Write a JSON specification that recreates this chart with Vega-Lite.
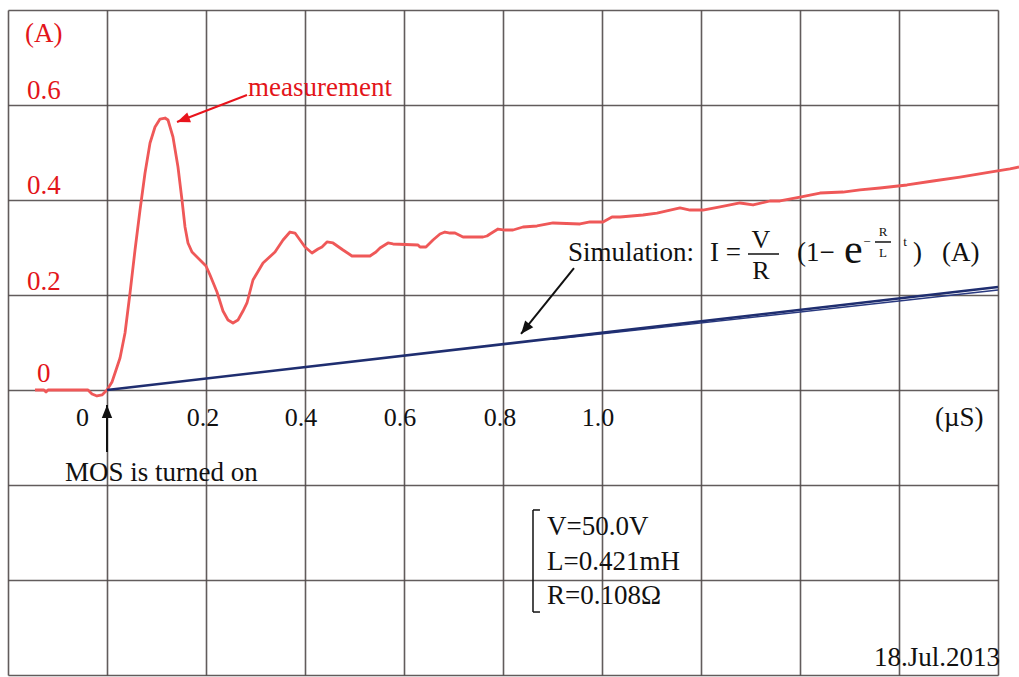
{
  "$schema": "https://vega.github.io/schema/vega-lite/v6.json",
  "width": 990,
  "height": 665,
  "autosize": {"type": "none"},
  "padding": {"left": 8, "top": 10, "right": 21, "bottom": 2},
  "background": "white",
  "config": {
    "view": {"stroke": null},
    "text": {"font": "Liberation Serif"}
  },
  "encoding": {
    "x": {
      "field": "t", "type": "quantitative",
      "scale": {"domain": [-0.2, 1.8], "nice": false, "zero": false},
      "axis": {"values": [-0.2, 0, 0.2, 0.4, 0.6, 0.8, 1.0, 1.2, 1.4, 1.6, 1.8], "grid": true, "labels": false, "ticks": false, "domain": false, "title": null, "gridColor": "#514a4a", "gridWidth": 1.6, "gridOpacity": 0.9}
    },
    "y": {
      "field": "I", "type": "quantitative",
      "scale": {"domain": [-0.6, 0.8], "nice": false, "zero": false},
      "axis": {"values": [-0.6, -0.4, -0.2, 0, 0.2, 0.4, 0.6, 0.8], "grid": true, "labels": false, "ticks": false, "domain": false, "title": null, "gridColor": "#514a4a", "gridWidth": 1.6, "gridOpacity": 0.9}
    }
  },
  "layer": [
    {
      "data": {"values": [
        {"t": -0.1455, "I": 0}, {"t": -0.1273, "I": 0}, {"t": -0.1232, "I": -0.0042}, {"t": -0.1192, "I": 0},
        {"t": -0.0384, "I": 0}, {"t": -0.0303, "I": -0.0084}, {"t": -0.0202, "I": -0.0126}, {"t": -0.0101, "I": -0.0105},
        {"t": 0, "I": 0}, {"t": 0.0101, "I": 0.0168}, {"t": 0.0162, "I": 0.0358}, {"t": 0.0263, "I": 0.0674},
        {"t": 0.0364, "I": 0.12}, {"t": 0.0465, "I": 0.2042}, {"t": 0.0566, "I": 0.2947}, {"t": 0.0667, "I": 0.3789},
        {"t": 0.0768, "I": 0.4568}, {"t": 0.0869, "I": 0.52}, {"t": 0.097, "I": 0.5537}, {"t": 0.1071, "I": 0.5705},
        {"t": 0.1172, "I": 0.5726}, {"t": 0.1232, "I": 0.5684}, {"t": 0.1333, "I": 0.5326}, {"t": 0.1434, "I": 0.4695},
        {"t": 0.1515, "I": 0.4}, {"t": 0.1576, "I": 0.3432}, {"t": 0.1636, "I": 0.3095}, {"t": 0.1717, "I": 0.2905},
        {"t": 0.1879, "I": 0.2737}, {"t": 0.2, "I": 0.2611}, {"t": 0.2081, "I": 0.2421}, {"t": 0.2222, "I": 0.2063},
        {"t": 0.2343, "I": 0.1663}, {"t": 0.2444, "I": 0.1474}, {"t": 0.2545, "I": 0.1411}, {"t": 0.2646, "I": 0.1474},
        {"t": 0.2747, "I": 0.1663}, {"t": 0.2828, "I": 0.1832}, {"t": 0.2949, "I": 0.2316}, {"t": 0.3152, "I": 0.2674},
        {"t": 0.3394, "I": 0.2905}, {"t": 0.3556, "I": 0.3158}, {"t": 0.3697, "I": 0.3326}, {"t": 0.3798, "I": 0.3305},
        {"t": 0.3899, "I": 0.3158}, {"t": 0.4, "I": 0.3011}, {"t": 0.4141, "I": 0.2884}, {"t": 0.4263, "I": 0.2968},
        {"t": 0.4343, "I": 0.3011}, {"t": 0.4444, "I": 0.3116}, {"t": 0.4566, "I": 0.3095}, {"t": 0.4768, "I": 0.2947},
        {"t": 0.4949, "I": 0.2821}, {"t": 0.5313, "I": 0.2821}, {"t": 0.5434, "I": 0.2905}, {"t": 0.5515, "I": 0.2989},
        {"t": 0.5677, "I": 0.3095}, {"t": 0.5778, "I": 0.3074}, {"t": 0.6283, "I": 0.3053}, {"t": 0.6323, "I": 0.3011},
        {"t": 0.6444, "I": 0.3011}, {"t": 0.6586, "I": 0.3158}, {"t": 0.6727, "I": 0.3284}, {"t": 0.6828, "I": 0.3326},
        {"t": 0.6929, "I": 0.3305}, {"t": 0.703, "I": 0.3305}, {"t": 0.7192, "I": 0.3221}, {"t": 0.7596, "I": 0.3221},
        {"t": 0.7677, "I": 0.3242}, {"t": 0.7737, "I": 0.3284}, {"t": 0.7899, "I": 0.3389}, {"t": 0.804, "I": 0.3368},
        {"t": 0.8202, "I": 0.3368}, {"t": 0.8404, "I": 0.3432}, {"t": 0.8687, "I": 0.3453}, {"t": 0.901, "I": 0.3516},
        {"t": 0.9556, "I": 0.3495}, {"t": 0.9758, "I": 0.3537}, {"t": 1.002, "I": 0.3537}, {"t": 1.0202, "I": 0.3642},
        {"t": 1.0364, "I": 0.3642}, {"t": 1.0828, "I": 0.3684}, {"t": 1.1111, "I": 0.3726}, {"t": 1.1576, "I": 0.3832},
        {"t": 1.1778, "I": 0.3789}, {"t": 1.204, "I": 0.3789}, {"t": 1.2384, "I": 0.3853}, {"t": 1.2788, "I": 0.3937},
        {"t": 1.3051, "I": 0.3895}, {"t": 1.3394, "I": 0.3979}, {"t": 1.3596, "I": 0.3979}, {"t": 1.4, "I": 0.4063},
        {"t": 1.4404, "I": 0.4147}, {"t": 1.4869, "I": 0.4168}, {"t": 1.5212, "I": 0.4211}, {"t": 1.5616, "I": 0.4253},
        {"t": 1.6162, "I": 0.4316}, {"t": 1.6687, "I": 0.44}, {"t": 1.7232, "I": 0.4484}, {"t": 1.7838, "I": 0.4589},
        {"t": 1.8242, "I": 0.4653}, {"t": 1.8424, "I": 0.4695}
      ]},
      "mark": {"type": "line", "color": "#ef5858", "strokeWidth": 2.8, "strokeJoin": "round", "clip": false}
    },
    {
      "data": {"values": [{"t": 0.9, "I": 0.1065}, {"t": 1.8, "I": 0.2105}]},
      "mark": {"type": "line", "color": "#2a3a80", "strokeWidth": 1.4}
    },
    {
      "data": {"values": [{"t": 0, "I": 0}, {"t": 1.8, "I": 0.2168}]},
      "mark": {"type": "line", "color": "#1f2e70", "strokeWidth": 2.6}
    },
    {
      "data": {"values": [{"t": 0.2828, "I": 0.6211, "t2": 0.1414, "I2": 0.5642}]},
      "mark": {"type": "rule", "color": "#e8141c", "strokeWidth": 2},
      "encoding": {"x2": {"field": "t2"}, "y2": {"field": "I2"}}
    },
    {
      "data": {"values": [{"t": 0.1414, "I": 0.5642}]},
      "mark": {"type": "point", "shape": "M0,0L-0.8,2L0.8,2Z", "size": 169, "filled": true, "color": "#e8141c", "opacity": 1, "angle": 249}
    },
    {
      "data": {"values": [
        {"t": 0.9434, "I": 0.2568, "t2": 0.8364, "I2": 0.1179},
        {"t": 0, "I": -0.1305, "t2": 0, "I2": -0.0316}
      ]},
      "mark": {"type": "rule", "color": "#111111", "strokeWidth": 2},
      "encoding": {"x2": {"field": "t2"}, "y2": {"field": "I2"}}
    },
    {
      "data": {"values": [{"t": 0.8364, "I": 0.1179}]},
      "mark": {"type": "point", "shape": "M0,0L-0.8,2L0.8,2Z", "size": 169, "filled": true, "color": "#111111", "opacity": 1, "angle": 219}
    },
    {
      "data": {"values": [{"t": 0, "I": -0.0316}]},
      "mark": {"type": "point", "shape": "M0,0L-0.8,2L0.8,2Z", "size": 169, "filled": true, "color": "#111111", "opacity": 1, "angle": 0}
    },
    {
      "data": {"values": [
        {"t": -0.1657, "I": 0.749, "label": "(A)"},
        {"t": -0.1616, "I": 0.629, "label": "0.6"},
        {"t": -0.1616, "I": 0.4295, "label": "0.4"},
        {"t": -0.1616, "I": 0.2274, "label": "0.2"},
        {"t": -0.1414, "I": 0.0337, "label": "0"},
        {"t": 0.2848, "I": 0.6358, "label": "measurement"}
      ]},
      "mark": {"type": "text", "fontSize": 27, "color": "#e3151a", "align": "left", "baseline": "middle"},
      "encoding": {"text": {"field": "label"}}
    },
    {
      "data": {"values": [
        {"t": -0.0848, "I": -0.1747, "label": "MOS is turned on"},
        {"t": 1.6727, "I": -0.0589, "label": "(µS)"},
        {"t": 0.9313, "I": 0.2884, "label": "Simulation:"},
        {"t": 1.2182, "I": 0.2884, "label": "I ="},
        {"t": 1.3939, "I": 0.2884, "label": "(1−"},
        {"t": 1.6283, "I": 0.2884, "label": ")"},
        {"t": 1.6869, "I": 0.2884, "label": "(A)"},
        {"t": 0.8889, "I": -0.2884, "label": "V=50.0V"},
        {"t": 0.8889, "I": -0.3621, "label": "L=0.421mH"},
        {"t": 0.8889, "I": -0.4337, "label": "R=0.108Ω"}
      ]},
      "mark": {"type": "text", "fontSize": 27, "color": "#111111", "align": "left", "baseline": "middle"},
      "encoding": {"text": {"field": "label"}}
    },
    {
      "data": {"values": [
        {"t": -0.0495, "I": -0.0589, "label": "0"},
        {"t": 0.194, "I": -0.0589, "label": "0.2"},
        {"t": 0.392, "I": -0.0589, "label": "0.4"},
        {"t": 0.592, "I": -0.0589, "label": "0.6"},
        {"t": 0.794, "I": -0.0589, "label": "0.8"},
        {"t": 0.992, "I": -0.0589, "label": "1.0"},
        {"t": 1.3212, "I": 0.3158, "label": "V"},
        {"t": 1.3212, "I": 0.2505, "label": "R"}
      ]},
      "mark": {"type": "text", "fontSize": 26, "color": "#111111", "align": "center", "baseline": "middle"},
      "encoding": {"text": {"field": "label"}}
    },
    {
      "data": {"values": [{"t": 1.4889, "I": 0.2674, "label": "e"}]},
      "mark": {"type": "text", "fontSize": 42, "color": "#111111", "align": "left", "baseline": "alphabetic"},
      "encoding": {"text": {"field": "label"}}
    },
    {
      "data": {"values": [
        {"t": 1.5354, "I": 0.3116, "label": "−"},
        {"t": 1.5677, "I": 0.3326, "label": "R"},
        {"t": 1.5677, "I": 0.2884, "label": "L"},
        {"t": 1.6121, "I": 0.3116, "label": "t"}
      ]},
      "mark": {"type": "text", "fontSize": 13, "color": "#111111", "align": "center", "baseline": "middle"},
      "encoding": {"text": {"field": "label"}}
    },
    {
      "data": {"values": [
        {"t": 1.2949, "I": 0.2863, "t2": 1.3576, "I2": 0.2863},
        {"t": 1.5515, "I": 0.3116, "t2": 1.5838, "I2": 0.3116},
        {"t": 0.8606, "I": -0.2526, "t2": 0.8606, "I2": -0.4674},
        {"t": 0.8606, "I": -0.2526, "t2": 0.8747, "I2": -0.2526},
        {"t": 0.8606, "I": -0.4674, "t2": 0.8747, "I2": -0.4674}
      ]},
      "mark": {"type": "rule", "color": "#111111", "strokeWidth": 1.5},
      "encoding": {"x2": {"field": "t2"}, "y2": {"field": "I2"}}
    },
    {
      "data": {"values": [{"t": 1.804, "I": -0.5642, "label": "18.Jul.2013"}]},
      "mark": {"type": "text", "fontSize": 27, "color": "#111111", "align": "right", "baseline": "middle"},
      "encoding": {"text": {"field": "label"}}
    }
  ]
}
